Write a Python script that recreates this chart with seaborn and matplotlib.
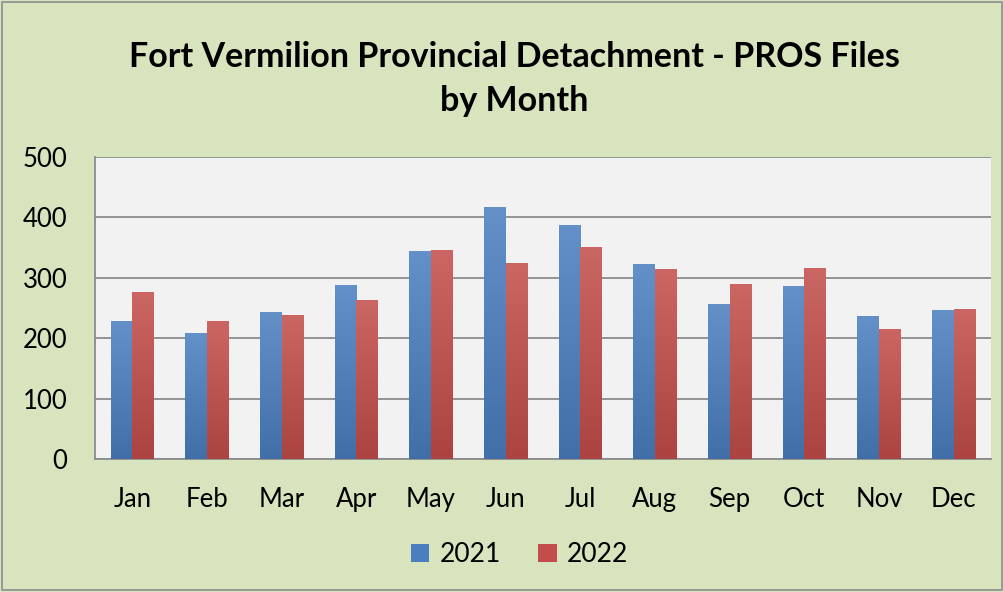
import numpy as np
import pandas as pd
import matplotlib
matplotlib.use('Agg')
import matplotlib.pyplot as plt
import seaborn as sns
from matplotlib.patches import Rectangle
from matplotlib.colors import to_rgb

# 数据
months = ['Jan', 'Feb', 'Mar', 'Apr', 'May', 'Jun', 'Jul', 'Aug', 'Sep', 'Oct', 'Nov', 'Dec']
files_2021 = [228, 208, 243, 288, 344, 417, 387, 323, 256, 286, 236, 246]
files_2022 = [276, 229, 238, 263, 346, 324, 351, 314, 289, 316, 216, 248]
years = ['2021', '2022']
y_ticks = [0, 100, 200, 300, 400, 500]

df = pd.DataFrame({
    'Month': months * 2,
    'Files': files_2021 + files_2022,
    'Year': [years[0]] * 12 + [years[1]] * 12,
})

sns.set_theme(style='white')
plt.rcParams['font.family'] = ['Lato', 'DejaVu Sans']
plt.rcParams['text.color'] = 'black'

fig = plt.figure(figsize=(10.04, 5.92), dpi=100)
fig.patch.set_facecolor('#D7E4BD')
ax = fig.add_axes([0.0946, 0.2247, 0.8924, 0.5101])
ax.set_facecolor('#F2F2F2')

palette = {'2021': '#4A7EBF', '2022': '#C24D4A'}
sns.barplot(data=df, x='Month', y='Files', hue='Year', order=months,
            hue_order=years, palette=palette, width=0.58, gap=0,
            saturation=1, ax=ax, zorder=3, legend=True, linewidth=0,
            edgecolor='none')

ax.set_ylim(0, 500)
ax.set_xlim(-0.5, 11.5)
ax.set_yticks(y_ticks)
ax.yaxis.grid(True, color='#8C8C8C', linewidth=1.3, zorder=0)
ax.set_axisbelow(True)
ax.set_xlabel('')
ax.set_ylabel('')
for side in ['top', 'right']:
    ax.spines[side].set_visible(False)
for side in ['left', 'bottom']:
    ax.spines[side].set_color('#8C8C8C')
    ax.spines[side].set_linewidth(1.3)

# 类别分隔刻度
ax.set_xticks(np.arange(-0.5, 12, 1), minor=True)
ax.tick_params(axis='x', which='major', labelsize=18.5, colors='black', length=0, pad=20)
ax.tick_params(axis='x', which='minor', length=6, color='#8C8C8C', width=1.3)
ax.tick_params(axis='y', which='major', labelsize=18.5, labelcolor='black',
               length=5, color='#8C8C8C', width=1.3, direction='out', pad=15)

# 渐变填充（仿 Excel 效果）
bars = [p for p in ax.patches if p.get_height() > 0]
for bar in bars:
    base = np.array(to_rgb(bar.get_facecolor()))
    top = base + (1 - base) * 0.14
    bottom = base * 0.88
    t = np.linspace(0, 1, 64)[:, None]
    grad = (top * (1 - t) + bottom * t)[:, None, :]
    x0, y0 = bar.get_x(), bar.get_y()
    im = ax.imshow(grad, extent=[x0, x0 + bar.get_width(), y0, y0 + bar.get_height()],
                   aspect='auto', zorder=4, interpolation='bilinear')
    im.set_clip_path(bar)
ax.set_xlim(-0.5, 11.5)
ax.set_ylim(0, 500)

fig.text(0.512, 0.904, 'Fort Vermilion Provincial Detachment - PROS Files',
         ha='center', va='center', fontsize=24.5, fontweight='bold', color='black')
fig.text(0.512, 0.829, 'by Month', ha='center', va='center',
         fontsize=24.5, fontweight='bold', color='black')

leg = ax.legend(loc='center', bbox_to_anchor=(0.474, -0.317), ncol=2,
                frameon=False, fontsize=19, handlelength=0.7, handleheight=0.7,
                handletextpad=0.4, columnspacing=1.4)

fig.patches.append(Rectangle((0.002, 0.003), 0.996, 0.994, transform=fig.transFigure,
                             fill=False, edgecolor='#8C8C8C', linewidth=1.2))

fig.savefig('out.png', dpi=100, facecolor=fig.get_facecolor())
